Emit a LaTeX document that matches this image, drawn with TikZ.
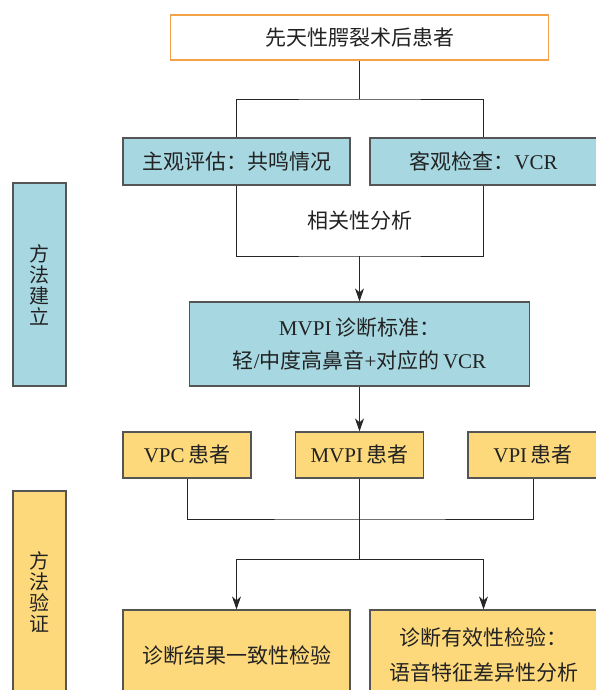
\documentclass[tikz,border=0pt]{standalone}
\usepackage{fontspec}
\setmainfont{Liberation Serif}
\newfontfamily\cjk{Noto Sans CJK SC}
\usetikzlibrary{arrows.meta}
\definecolor{boxblue}{HTML}{A7D8E2}
\definecolor{boxyellow}{HTML}{FDD97B}
\definecolor{topline}{HTML}{F4A24A}
\definecolor{edgegray}{HTML}{555555}
\definecolor{txt}{HTML}{222222}
\begin{document}
\begin{tikzpicture}[x=1pt,y=-1pt,
  font=\fontsize{21}{26}\selectfont, text=txt,
  basebox/.style={line width=1.2pt, inner sep=0pt, align=center},
  bluebox/.style={basebox, draw=edgegray, fill=boxblue},
  yelbox/.style={basebox, draw=edgegray, fill=boxyellow},
  sidetext/.style={font=\fontsize{20}{21}\selectfont},
  conn/.style={draw=black!85, line width=0.9pt},
  arr/.style={conn, -{Stealth[length=13pt,width=9pt,inset=4pt]}}
]
\clip (0,0) rectangle (596,690);
\fill[white] (0,0) rectangle (596,690);

% nodes
\node[basebox, draw=topline, fill=white, minimum width=378pt, minimum height=45pt] (top) at (359.5,37.5) {\cjk 先天性腭裂术后患者};
\node[bluebox, minimum width=227pt, minimum height=47pt] (subj) at (236.5,161.5) {\cjk 主观评估：共鸣情况};
\node[bluebox, minimum width=227pt, minimum height=47pt] (obj) at (483.5,161.5) {{\cjk 客观检查：}VCR};
\node (corr) at (359.5,221) {\cjk 相关性分析};
\node[bluebox, minimum width=340pt, minimum height=84pt, font=\fontsize{21}{33}\selectfont] (crit) at (359.5,344)
  {MVPI\,{\cjk 诊断标准：}\\{\cjk 轻}/{\cjk 中度高鼻音}+{\cjk 对应的}\,VCR};

\node[yelbox, minimum width=128pt, minimum height=46pt] (vpc) at (187,455) {VPC\,{\cjk 患者}};
\node[yelbox, minimum width=128pt, minimum height=46pt] (mvy) at (359.5,455) {MVPI\,{\cjk 患者}};
\node[yelbox, minimum width=130pt, minimum height=46pt] (vpi) at (533,455) {VPI\,{\cjk 患者}};

\node[yelbox, minimum width=227pt, minimum height=90pt] (bl) at (236.5,655) {\cjk 诊断结果一致性检验};
\node[yelbox, minimum width=227pt, minimum height=90pt, font=\fontsize{21}{35}\selectfont] (br) at (483.5,655)
  {\cjk 诊断有效性检验：\\\cjk 语音特征差异性分析};

\node[bluebox, sidetext, minimum width=53pt, minimum height=203pt] (side1) at (39.5,284.5) {\cjk 方\\\cjk 法\\\cjk 建\\\cjk 立};
\node[yelbox, sidetext, minimum width=53pt, minimum height=203pt] (side2) at (39.5,592.5) {\cjk 方\\\cjk 法\\\cjk 验\\\cjk 证};

% junctions
\coordinate (j1) at (359.5,99);
\coordinate (j2) at (359.5,256);
\coordinate (j3) at (359.5,519);
\coordinate (j4) at (359.5,559);

% connectors
\draw[conn] (top.south) -- (j1);
\draw[conn] (subj.north) |- (j1) -| (obj.north);
\draw[conn] (subj.south) |- (j2) -| (obj.south);
\draw[arr] (j2) -- (crit.north);
\draw[arr] (crit.south) -- (mvy.north);
\draw[conn] (vpc.south) |- (j3) -| (vpi.south);
\draw[conn] (mvy.south) -- (j4);
\draw[arr] (j4) -| (bl.north);
\draw[arr] (j4) -| (br.north);
\end{tikzpicture}
\end{document}
